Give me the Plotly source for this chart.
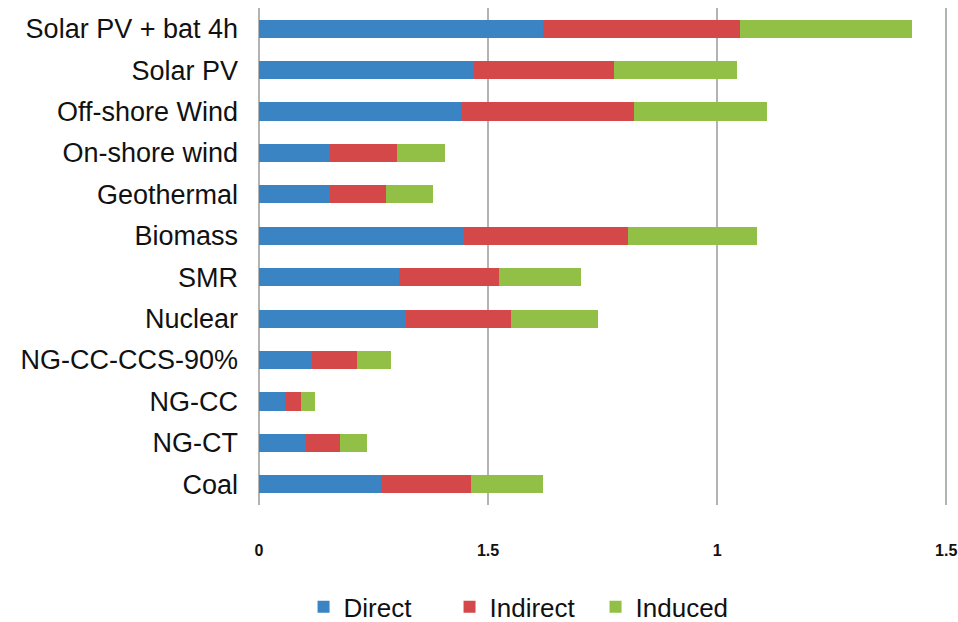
import plotly.graph_objects as go

categories = ["Solar PV + bat 4h", "Solar PV", "Off-shore Wind", "On-shore wind",
              "Geothermal", "Biomass", "SMR", "Nuclear", "NG-CC-CCS-90%",
              "NG-CC", "NG-CT", "Coal"]
direct = [0.621, 0.470, 0.442, 0.156, 0.156, 0.447, 0.305, 0.322, 0.115, 0.056, 0.102, 0.267]
indirect = [0.430, 0.304, 0.376, 0.146, 0.122, 0.358, 0.220, 0.229, 0.098, 0.035, 0.074, 0.195]
induced = [0.374, 0.269, 0.292, 0.105, 0.101, 0.282, 0.177, 0.188, 0.076, 0.032, 0.059, 0.157]
series_names = ["Direct", "Indirect", "Induced"]
colors = ["#3A84C4", "#D4484A", "#92BF46"]
tick_vals = [0, 0.5, 1, 1.5]
tick_text = ["0", "1.5", "1", "1.5"]

fig = go.Figure()
for name, vals, col in zip(series_names, [direct, indirect, induced], colors):
    fig.add_trace(go.Bar(
        y=categories, x=vals, name=name, orientation="h",
        marker=dict(color=col, line=dict(width=0)),
    ))

fig.update_layout(
    width=958, height=622,
    barmode="stack", bargap=0.56,
    margin=dict(l=258, r=10, t=8, b=117, autoexpand=False),
    plot_bgcolor="white", paper_bgcolor="white",
    font=dict(family="Liberation Sans, Arial, sans-serif", color="#111111"),
    xaxis=dict(
        range=[-0.002, 1.504], tickvals=tick_vals, ticktext=tick_text,
        showgrid=True, gridcolor="#B3B3B3", gridwidth=2,
        zeroline=True, zerolinecolor="#B3B3B3", zerolinewidth=2,
        showline=False, ticks="", automargin=False,
        tickfont=dict(size=16, family="Liberation Sans, Arial, sans-serif", weight="bold"),
        ticklabelstandoff=34,
    ),
    yaxis=dict(
        autorange="reversed", showgrid=False, zeroline=False, showline=False,
        ticks="", tickfont=dict(size=27), ticklabelstandoff=19, automargin=False,
    ),
    legend=dict(
        orientation="h", x=0.066, xanchor="left", y=-0.205, yanchor="middle",
        font=dict(size=26), traceorder="normal", entrywidth=101,
    ),
)

fig.write_html("out.html", config={"displayModeBar": False},
               post_script="document.body.style.margin='0';")
